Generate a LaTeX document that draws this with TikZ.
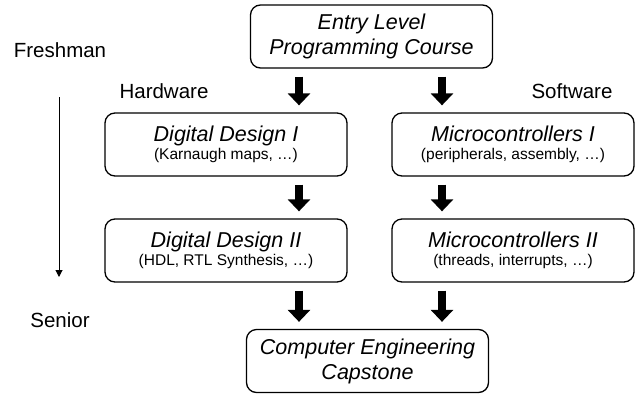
\documentclass[tikz,border=0pt]{standalone}
\usepackage{fontspec}
\setmainfont{Liberation Sans}
\usetikzlibrary{arrows.meta}
\begin{document}
\begin{tikzpicture}[x=1pt,y=-1pt,
  course/.style={draw, rounded corners=10pt, line width=1.3pt, minimum width=242pt,
    minimum height=63pt, align=center, inner sep=0pt,
    font=\fontsize{21.5}{25}\selectfont\itshape},
  blk/.style={line width=8pt, -{Triangle[width=22pt,length=12pt]}, shorten <=8pt, shorten >=7pt},
  side/.style={font=\fontsize{20.5}{24}\selectfont},
  tline/.style={line width=1pt, -{Triangle[width=7pt,length=7pt]}}]
\useasboundingbox (0,0) rectangle (636,394);
\newcommand{\subt}[1]{{\fontsize{15.5}{18}\selectfont\upshape #1}}
\node[course] (top) at (371.5,36.5) {Entry Level\\Programming Course};
\node[course] (dd1) at (226,144.5) {Digital Design I\\[-7pt]\subt{(Karnaugh maps, …)}};
\node[course] (dd2) at (226,250.5) {Digital Design II\\[-7pt]\subt{(HDL, RTL Synthesis, …)}};
\node[course] (mc1) at (513,144.5) {Microcontrollers I\\[-7pt]\subt{(peripherals, assembly, …)}};
\node[course] (mc2) at (513,250.5) {Microcontrollers II\\[-7pt]\subt{(threads, interrupts, …)}};
\node[course] (cap) at (367.5,361) {Computer Engineering\\Capstone};
\node[side] (fresh) at (60,50) {Freshman};
\node[side] (senior) at (60,320) {Senior};
\node[side] (hw) at (164,91) {Hardware};
\node[side] (sw) at (572,91) {Software};
\coordinate (hx) at (299,0);
\coordinate (sx) at (442,0);
\coordinate (t1) at (59,97);
\coordinate (t2) at (59,277);
\draw[blk] (top.south -| hx) -- (dd1.north -| hx);
\draw[blk] (top.south -| sx) -- (mc1.north -| sx);
\draw[blk] (dd1.south -| hx) -- (dd2.north -| hx);
\draw[blk] (mc1.south -| sx) -- (mc2.north -| sx);
\draw[blk] (dd2.south -| hx) -- (cap.north -| hx);
\draw[blk] (mc2.south -| sx) -- (cap.north -| sx);
\draw[tline] (t1) -- (t2);
\end{tikzpicture}
\end{document}
